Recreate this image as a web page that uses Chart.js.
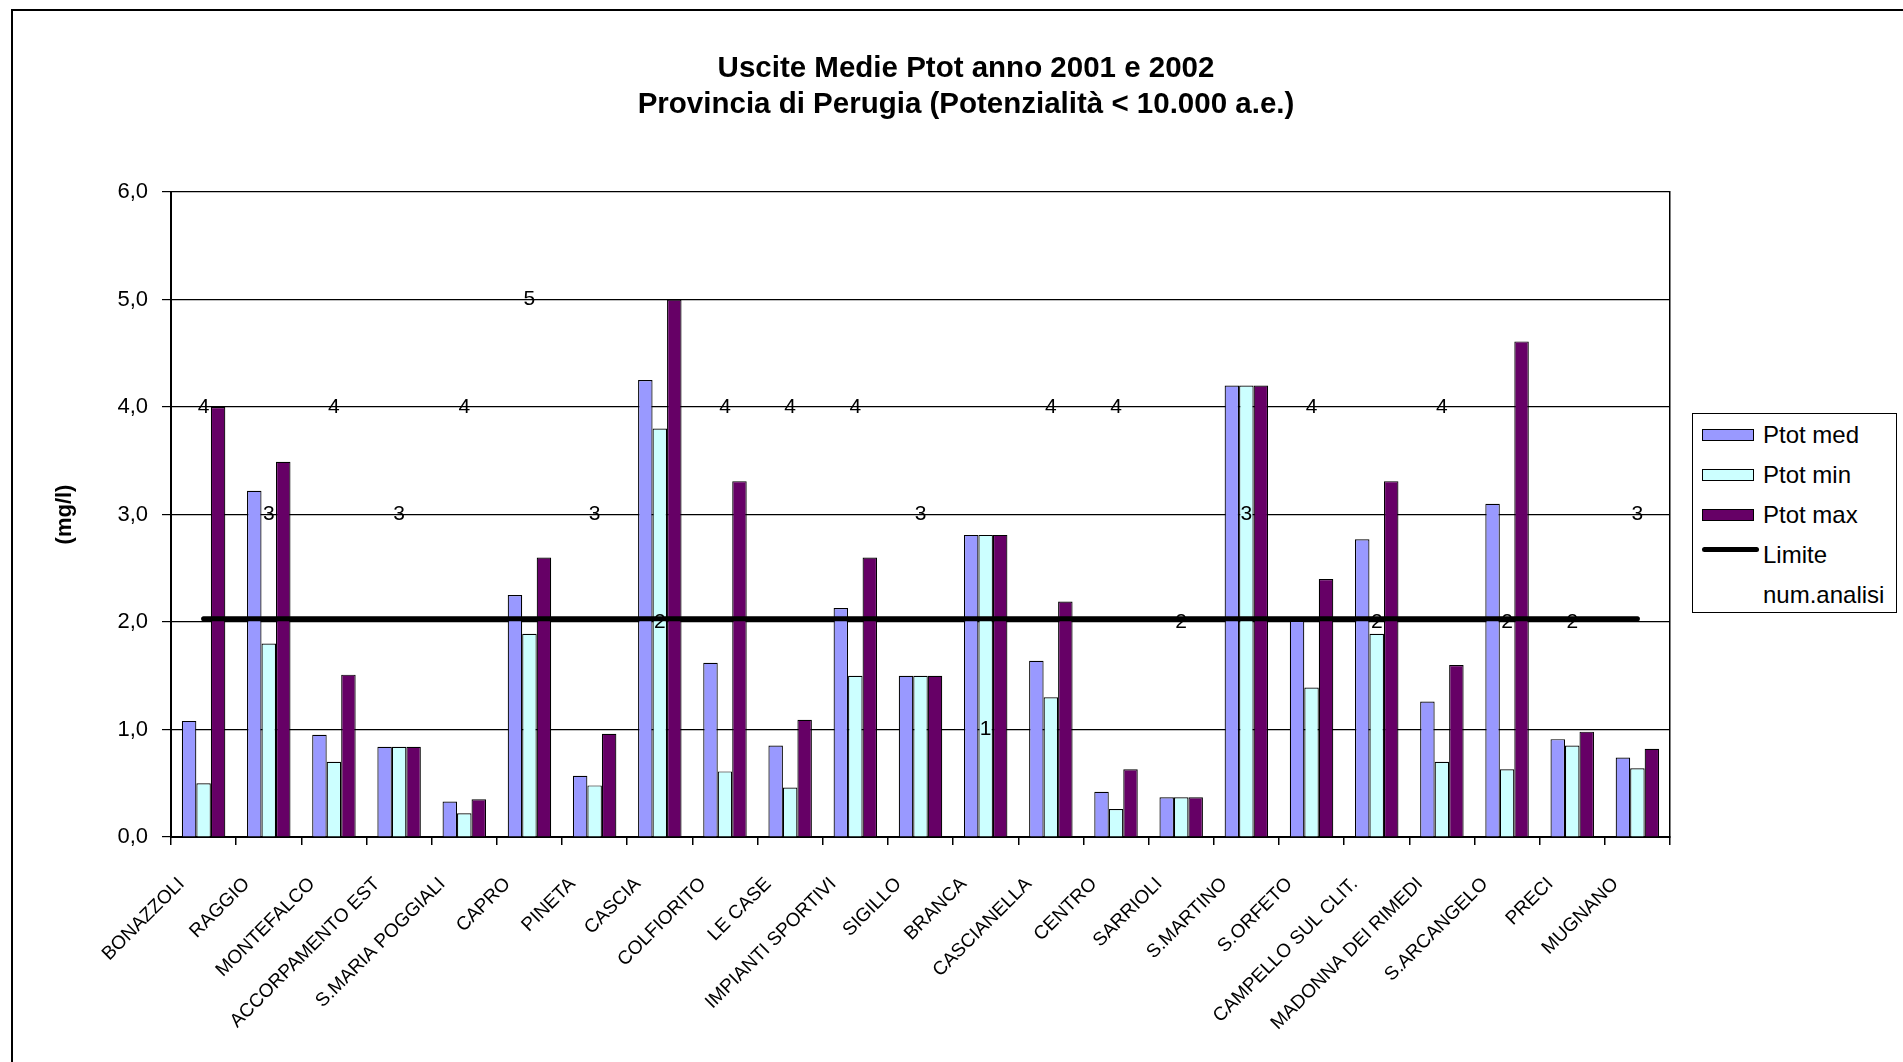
<!DOCTYPE html>
<html>
<head>
<meta charset="utf-8">
<script src="https://cdn.jsdelivr.net/npm/chart.js@4"></script>
<style>
    html, body { margin: 0; padding: 0; background: #fff; overflow: hidden; }
    #wrap { position: absolute; left: 0; top: 0; width: 1903px; height: 1062px; }
    #frame { position: absolute; left: 11px; top: 9px; width: 2000px; height: 1200px;
             border-left: 2px solid #000; border-top: 2px solid #000; pointer-events: none; }
    #legend { position: absolute; left: 1692px; top: 413px; width: 203px; height: 198px;
              border: 1.5px solid #000; background: #fff;
              font-family: "Liberation Sans", Arial, sans-serif; font-size: 24px; color: #000; }
    .row { position: absolute; left: 0; height: 30px; width: 200px; }
    .sw { position: absolute; left: 9px; top: 9px; width: 50px; height: 10px; border: 1.5px solid #000; }
    .ln { position: absolute; left: 9px; top: 7px; width: 57px; height: 5px; border-radius: 3px; }
    .tx { position: absolute; left: 70px; top: 0; line-height: 30px; white-space: nowrap; }
</style>
</head>
<body>
<div id="wrap"><canvas id="myChart"></canvas></div>
<div id="frame"></div>
<div id="legend"></div>
<script>
const categories = ['BONAZZOLI', 'RAGGIO', 'MONTEFALCO', 'ACCORPAMENTO EST', 'S.MARIA POGGIALI',
    'CAPRO', 'PINETA', 'CASCIA', 'COLFIORITO', 'LE CASE', 'IMPIANTI SPORTIVI', 'SIGILLO',
    'BRANCA', 'CASCIANELLA', 'CENTRO', 'SARRIOLI', 'S.MARTINO', 'S.ORFETO',
    'CAMPELLO SUL CLIT.', 'MADONNA DEI RIMEDI', 'S.ARCANGELO', 'PRECI', 'MUGNANO'];
const ptotMed = [1.08, 3.22, 0.95, 0.84, 0.33, 2.25, 0.57, 4.25, 1.62, 0.85, 2.13, 1.50,
    2.81, 1.64, 0.42, 0.37, 4.20, 2.01, 2.77, 1.26, 3.10, 0.91, 0.74];
const ptotMin = [0.50, 1.80, 0.70, 0.84, 0.22, 1.89, 0.48, 3.80, 0.61, 0.46, 1.50, 1.50,
    2.81, 1.30, 0.26, 0.37, 4.20, 1.39, 1.89, 0.70, 0.63, 0.85, 0.64];
const ptotMax = [4.00, 3.49, 1.51, 0.84, 0.35, 2.60, 0.96, 5.00, 3.31, 1.09, 2.60, 1.50,
    2.81, 2.19, 0.63, 0.37, 4.20, 2.40, 3.31, 1.60, 4.61, 0.98, 0.82];
const limite = [2.03, 2.03, 2.03, 2.03, 2.03, 2.03, 2.03, 2.03, 2.03, 2.03, 2.03, 2.03,
    2.03, 2.03, 2.03, 2.03, 2.03, 2.03, 2.03, 2.03, 2.03, 2.03, 2.03];
const numAnalisi = [4, 3, 4, 3, 4, 5, 3, 2, 4, 4, 4, 3, 1, 4, 4, 2, 3, 4, 2, 4, 2, 2, 3];
const yTicks = [0, 1, 2, 3, 4, 5, 6];

Chart.defaults.font.family = '"Liberation Sans", Arial, sans-serif';
Chart.defaults.color = '#000';

// writes the num.analisi counts on top of their points
const numLabels = {
    id: 'numLabels',
    afterDatasetsDraw(chart) {
        const ctx = chart.ctx;
        const idx = chart.data.datasets.findIndex(d => d.label === 'num.analisi');
        const meta = chart.getDatasetMeta(idx);
        ctx.save();
        ctx.font = '21px "Liberation Sans", Arial, sans-serif';
        ctx.fillStyle = '#000';
        ctx.textAlign = 'center';
        ctx.textBaseline = 'middle';
        meta.data.forEach((pt, i) => {
            ctx.fillText(String(numAnalisi[i]), pt.x, pt.y);
        });
        ctx.restore();
    }
};

const bar = (label, data, color) => ({
    type: 'bar',
    label: label,
    data: data,
    backgroundColor: color,
    borderColor: '#000',
    borderWidth: 1.2,
    categoryPercentage: 0.667,
    barPercentage: 1.0,
    order: 2
});

const config = {
    type: 'bar',
    data: {
        labels: categories,
        datasets: [
            bar('Ptot med', ptotMed, '#9999FF'),
            bar('Ptot min', ptotMin, '#CCFFFF'),
            bar('Ptot max', ptotMax, '#660066'),
            {
                type: 'line',
                label: 'Limite',
                data: limite,
                borderColor: '#000',
                backgroundColor: '#000',
                borderWidth: 5,
                borderCapStyle: 'round',
                pointRadius: 0,
                order: 1
            },
            {
                type: 'line',
                label: 'num.analisi',
                data: numAnalisi,
                showLine: false,
                pointRadius: 0,
                borderColor: 'transparent',
                backgroundColor: 'transparent',
                order: 0
            }
        ]
    },
    options: {
        responsive: true,
        maintainAspectRatio: false,
        animation: false,
        layout: { padding: { left: 29, right: 0, top: 0, bottom: 0 } },
        plugins: {
            legend: { display: false },
            tooltip: { enabled: false },
            title: {
                display: true,
                text: ['Uscite Medie Ptot anno 2001 e 2002', 'Provincia di Perugia (Potenzialità < 10.000 a.e.)'],
                font: { size: 29.5, weight: 'bold', lineHeight: 1.22 },
                color: '#000',
                padding: { top: 51, bottom: 69 }
            }
        },
        scales: {
            x: {
                grid: { offset: true, drawOnChartArea: false, tickLength: 8, color: '#000', lineWidth: 1.5 },
                border: { color: '#000', width: 2 },
                ticks: {
                    autoSkip: false,
                    minRotation: 45,
                    maxRotation: 45,
                    labelOffset: -22,
                    padding: 28,
                    font: { size: 19 },
                    color: '#000'
                },
                afterFit: s => { s.height = 225; }
            },
            y: {
                min: 0,
                max: 6,
                afterBuildTicks: s => { s.ticks = yTicks.map(v => ({ value: v })); },
                ticks: {
                    callback: v => v.toFixed(1).replace('.', ','),
                    font: { size: 22 },
                    color: '#000',
                    padding: 14
                },
                grid: { color: '#000', lineWidth: 1.2, tickLength: 9 },
                border: { color: '#000', width: 2 },
                title: {
                    display: true,
                    text: '(mg/l)',
                    font: { size: 22, weight: 'bold' },
                    color: '#000',
                    padding: { top: 23, bottom: 0 }
                },
                afterFit: s => { s.width = 142; }
            },
            yRight: {
                position: 'right',
                min: 0,
                max: 6,
                ticks: { display: false },
                grid: { drawOnChartArea: false, drawTicks: false },
                border: { color: '#000', width: 1.5 },
                afterFit: s => { s.width = 233; }
            }
        }
    },
    plugins: [numLabels]
};

const myChart = new Chart(document.getElementById('myChart'), config);

// legend box on the right, built from the datasets
const legendBox = document.getElementById('legend');
const rowTops = [6, 46, 86, 126, 166];
myChart.data.datasets.forEach((ds, i) => {
    const row = document.createElement('div');
    row.className = 'row';
    row.style.top = rowTops[i] + 'px';
    if (ds.type === 'bar') {
        const sw = document.createElement('div');
        sw.className = 'sw';
        sw.style.background = ds.backgroundColor;
        row.appendChild(sw);
    } else if (ds.showLine !== false) {
        const ln = document.createElement('div');
        ln.className = 'ln';
        ln.style.background = ds.borderColor;
        row.appendChild(ln);
    }
    const tx = document.createElement('div');
    tx.className = 'tx';
    tx.textContent = ds.label;
    row.appendChild(tx);
    legendBox.appendChild(row);
});
</script>
</body>
</html>
